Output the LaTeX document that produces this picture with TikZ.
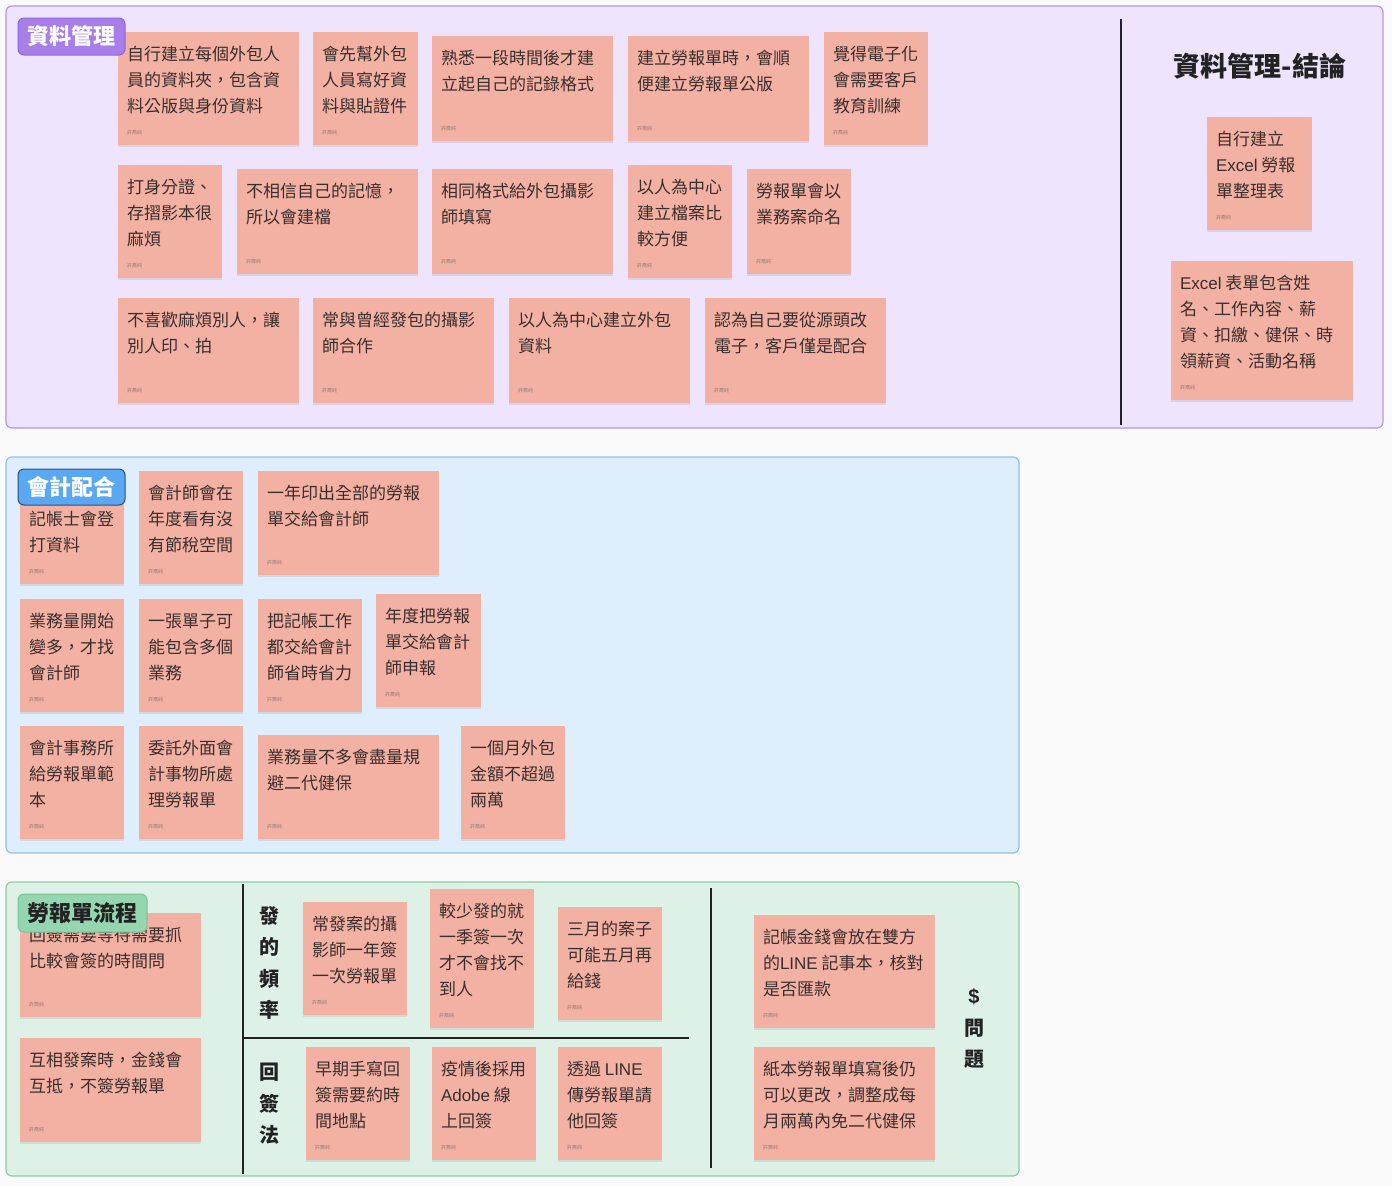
\documentclass[tikz,border=0pt]{standalone}
\usepackage{fontspec}
\setmainfont{Noto Sans CJK TC}
\newfontfamily\lat{Liberation Sans}
\usetikzlibrary{fit,shadows}
\definecolor{pagebg}{HTML}{FAFAFA}
\definecolor{purfill}{HTML}{EEE4FD}
\definecolor{purdraw}{HTML}{B794EC}
\definecolor{purlab}{HTML}{A87EEB}
\definecolor{purlabd}{HTML}{8F66DA}
\definecolor{blufill}{HTML}{DEEEFC}
\definecolor{bludraw}{HTML}{8DC0EE}
\definecolor{blulab}{HTML}{5BA8F2}
\definecolor{blulabd}{HTML}{2E4E80}
\definecolor{grefill}{HTML}{DEF1E7}
\definecolor{gredraw}{HTML}{8CCBA5}
\definecolor{grelab}{HTML}{93D6B0}
\definecolor{grelabd}{HTML}{7CC29A}
\definecolor{notefill}{HTML}{F3B1A4}
\definecolor{notetxt}{HTML}{3A2E2C}
\definecolor{authcol}{HTML}{9A7A75}
\definecolor{linecol}{HTML}{222222}
\tikzset{
  frame/.style={rounded corners=6pt, line width=1.2pt, inner sep=0pt},
  notebox/.style={fill=notefill, draw=none, inner sep=0pt,
    drop shadow={opacity=0.18, shadow xshift=0pt, shadow yshift=-2pt}},
  notetext/.style={font=\fontsize{17}{26}\selectfont, align=left, inner sep=0pt, text=notetxt},
  author/.style={font=\fontsize{5}{6}\selectfont, inner sep=0pt, text=authcol},
  labelbox/.style={rounded corners=6pt, line width=1pt, inner sep=0pt},
  labeltext/.style={font=\fontsize{22}{26}\selectfont\bfseries, inner sep=0pt},
  sidelabel/.style={align=center, inner sep=0pt, text=linecol},
  divider/.style={draw=linecol, line width=1.6pt}
}
\newcommand\stickynote[6]{%
  \node[notebox, fit={(#2,#3) (#4,#5)}] (#1) {};
  \node[notetext, anchor=north west] (#1t) at ([xshift=9pt,yshift=-10.5pt]#1.north west) {\rule{0pt}{18pt}#6};
  \node[author, anchor=west] (#1a) at ([xshift=9pt,yshift=13pt]#1.south west) {許喬純};
}
\begin{document}
\begin{tikzpicture}[x=1pt,y=-1pt]
\fill[pagebg] (0,0) rectangle (1392,1186);
\useasboundingbox (0,0) rectangle (1392,1186);

% frames
\node[frame, draw=purdraw, fill=purfill, fit={(6,6) (1383,428)}] (fpur) {};
\node[frame, draw=bludraw, fill=blufill, fit={(6,457) (1019,853)}] (fblu) {};
\node[frame, draw=gredraw, fill=grefill, fit={(6,882) (1019,1176)}] (fgre) {};

% dividers
\coordinate (pv1) at (1121,19); \coordinate (pv2) at (1121,425);
\draw[divider] (pv1) -- (pv2);
\coordinate (gv1) at (243,884); \coordinate (gv2) at (243,1174);
\draw[divider] (gv1) -- (gv2);
\coordinate (gh1) at (243,1038); \coordinate (gh2) at (689,1038);
\draw[divider] (gh1) -- (gh2);
\coordinate (gw1) at (711,888); \coordinate (gw2) at (711,1168);
\draw[divider] (gw1) -- (gw2);

% purple notes
\stickynote{n1}{118}{32}{299}{145}{自行建立每個外包人\\員的資料夾，包含資\\料公版與身份資料}
\stickynote{n2}{313}{32}{418}{145}{會先幫外包\\人員寫好資\\料與貼證件}
\stickynote{n3}{432}{36}{613}{141}{熟悉一段時間後才建\\立起自己的記錄格式}
\stickynote{n4}{628}{36}{809}{141}{建立勞報單時，會順\\便建立勞報單公版}
\stickynote{n5}{824}{32}{928}{145}{覺得電子化\\會需要客戶\\教育訓練}
\stickynote{n6}{118}{165}{222}{278}{打身分證、\\存摺影本很\\麻煩}
\stickynote{n7}{237}{169}{418}{274}{不相信自己的記憶，\\所以會建檔}
\stickynote{n8}{432}{169}{613}{274}{相同格式給外包攝影\\師填寫}
\stickynote{n9}{628}{165}{732}{278}{以人為中心\\建立檔案比\\較方便}
\stickynote{n10}{747}{169}{851}{274}{勞報單會以\\業務案命名}
\stickynote{n11}{118}{298}{299}{403}{不喜歡麻煩別人，讓\\別人印、拍}
\stickynote{n12}{313}{298}{494}{403}{常與曾經發包的攝影\\師合作}
\stickynote{n13}{509}{298}{690}{403}{以人為中心建立外包\\資料}
\stickynote{n14}{705}{298}{886}{403}{認為自己要從源頭改\\電子，客戶僅是配合}

\node[font=\fontsize{27}{30}\selectfont\bfseries, text=linecol, inner sep=0pt] (ctitle) at (1260,66) {資料管理-結論};
\stickynote{c1}{1207}{117}{1312}{230}{自行建立\\{\lat Excel} 勞報\\單整理表}
\stickynote{c2}{1171}{261}{1353}{400}{{\lat Excel} 表單包含姓\\名、工作內容、薪\\資、扣繳、健保、時\\領薪資、活動名稱}

% blue notes
\stickynote{b1}{20}{471}{124}{584}{\\記帳士會登\\打資料}
\stickynote{b2}{139}{471}{243}{584}{會計師會在\\年度看有沒\\有節稅空間}
\stickynote{b3}{258}{471}{439}{575}{一年印出全部的勞報\\單交給會計師}
\stickynote{b4}{20}{599}{124}{712}{業務量開始\\變多，才找\\會計師}
\stickynote{b5}{139}{599}{243}{712}{一張單子可\\能包含多個\\業務}
\stickynote{b6}{258}{599}{362}{712}{把記帳工作\\都交給會計\\師省時省力}
\stickynote{b7}{376}{594}{481}{707}{年度把勞報\\單交給會計\\師申報}
\stickynote{b8}{20}{726}{124}{839}{會計事務所\\給勞報單範\\本}
\stickynote{b9}{139}{726}{243}{839}{委託外面會\\計事物所處\\理勞報單}
\stickynote{b10}{258}{735}{439}{839}{業務量不多會盡量規\\避二代健保}
\stickynote{b11}{461}{726}{565}{839}{一個月外包\\金額不超過\\兩萬}

% green notes
\stickynote{g1}{20}{913}{201}{1017}{回簽需要等待需要抓\\比較會簽的時間問}
\stickynote{g2}{20}{1038}{201}{1142}{互相發案時，金錢會\\互抵，不簽勞報單}
\stickynote{g3}{303}{902}{407}{1015}{常發案的攝\\影師一年簽\\一次勞報單}
\stickynote{g4}{430}{889}{534}{1028}{較少發的就\\一季簽一次\\才不會找不\\到人}
\stickynote{g5}{558}{907}{662}{1020}{三月的案子\\可能五月再\\給錢}
\stickynote{g6}{306}{1047}{410}{1160}{早期手寫回\\簽需要約時\\間地點}
\stickynote{g7}{432}{1047}{536}{1160}{疫情後採用\\{\lat Adobe} 線\\上回簽}
\stickynote{g8}{558}{1047}{662}{1160}{透過 {\lat LINE}\\傳勞報單請\\他回簽}
\stickynote{g9}{754}{915}{935}{1028}{記帳金錢會放在雙方\\的{\lat LINE} 記事本，核對\\是否匯款}
\stickynote{g10}{754}{1047}{935}{1160}{紙本勞報單填寫後仍\\可以更改，調整成每\\月兩萬內免二代健保}

\node[sidelabel, font=\fontsize{20}{31.3}\selectfont\bfseries] (freq) at (269,963) {發\\的\\頻\\率};
\node[sidelabel, font=\fontsize{20}{31.5}\selectfont\bfseries] (sign) at (269,1104) {回\\簽\\法};
\node[sidelabel, font=\fontsize{20}{31.5}\selectfont\bfseries] (money) at (974,1029) {{\lat\bfseries \$}\\問\\題};

% section labels
\node[labelbox, draw=purlabd, fill=purlab, fit={(18,18) (125,55)}] (lpur) {};
\node[labeltext, text=white] (lpurt) at (lpur.center) {資料管理};
\node[labelbox, draw=blulabd, fill=blulab, fit={(18,469) (125,505)}] (lblu) {};
\node[labeltext, text=white] (lblut) at (lblu.center) {會計配合};
\node[labelbox, draw=grelabd, fill=grelab, fit={(18,894) (147,932)}] (lgre) {};
\node[labeltext, text=linecol] (lgret) at (lgre.center) {勞報單流程};
\end{tikzpicture}
\end{document}
